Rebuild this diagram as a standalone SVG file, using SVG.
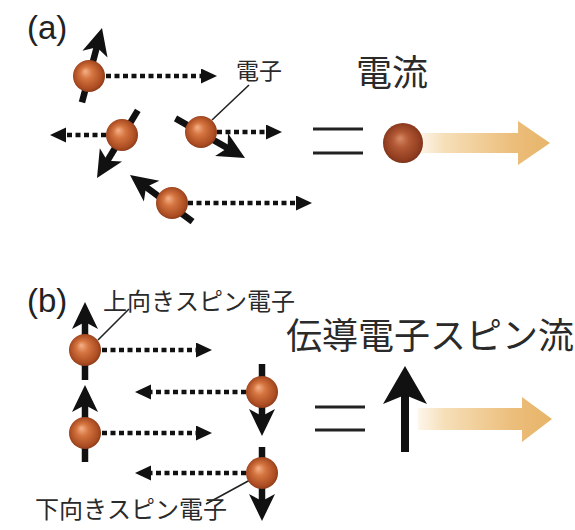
<svg xmlns="http://www.w3.org/2000/svg" width="575" height="530" viewBox="0 0 575 530">
  <style>
    .lbl { font-family: "Liberation Sans", Arial, sans-serif; fill: #222; }
    .jp { font-family: "Noto Sans CJK JP", "Noto Sans CJK SC", sans-serif; fill: #2a2a2a; }
    .dot { stroke: #111; stroke-width: 4.5; stroke-dasharray: 5 3.5; fill: none; marker-end: url(#tri); }
    .lead { stroke: #222; stroke-width: 1.6; fill: none; }
    .shaft { stroke: #111; stroke-width: 6.5; fill: none; }
    .head { fill: #111; }
    .eq { stroke: #222; stroke-width: 3; }
    .e { fill: url(#ball); }
  </style>
  <defs>
    <radialGradient id="ball" cx="0.5" cy="0.5" r="0.55" fx="0.38" fy="0.35">
      <stop offset="0" stop-color="#f6b189"/>
      <stop offset="0.35" stop-color="#d47440"/>
      <stop offset="0.8" stop-color="#ab4c22"/>
      <stop offset="1" stop-color="#7d3416"/>
    </radialGradient>
    <radialGradient id="ballBig" cx="0.5" cy="0.5" r="0.55" fx="0.42" fy="0.38">
      <stop offset="0" stop-color="#d88a68"/>
      <stop offset="0.35" stop-color="#b45a36"/>
      <stop offset="0.85" stop-color="#8c3a1e"/>
      <stop offset="1" stop-color="#6a2812"/>
    </radialGradient>
    <linearGradient id="flowA" gradientUnits="userSpaceOnUse" x1="418" y1="0" x2="552" y2="0">
      <stop offset="0" stop-color="#fdf6ec"/>
      <stop offset="0.2" stop-color="#f6dfb8"/>
      <stop offset="0.7" stop-color="#ecbe7c"/>
      <stop offset="1" stop-color="#e7b468"/>
    </linearGradient>
    <marker id="tri" markerUnits="userSpaceOnUse" markerWidth="17" markerHeight="16" refX="0" refY="7.5" orient="auto">
      <path d="M0,0 L16,7.5 L0,15 z" fill="#111"/>
    </marker>
  </defs>

  <rect width="575" height="530" fill="#ffffff"/>

  <!-- panel labels -->
  <text class="lbl" x="27" y="39" font-size="33">(a)</text>
  <text class="lbl" x="27" y="312" font-size="33">(b)</text>

  <!-- connectors: travel paths and leader lines -->
  <g id="connectors">
    <line class="dot" x1="106" y1="76" x2="201" y2="76"/>
    <line class="dot" x1="106" y1="135" x2="66" y2="135"/>
    <line class="dot" x1="217" y1="132" x2="266" y2="132"/>
    <line class="dot" x1="188" y1="203" x2="296" y2="203"/>
    <line class="dot" x1="102" y1="350" x2="196" y2="350"/>
    <line class="dot" x1="102" y1="433" x2="196" y2="433"/>
    <line class="dot" x1="246" y1="392" x2="151" y2="392"/>
    <line class="dot" x1="246" y1="473" x2="151" y2="473"/>
    <line class="lead" x1="212" y1="120" x2="249" y2="85"/>
    <line class="lead" x1="98" y1="340" x2="129" y2="309"/>
    <line class="lead" x1="250" y1="480" x2="206" y2="504"/>
  </g>

  <!-- (a) electrons moving in random directions -->
  <g id="e1">
    <g transform="translate(102,28) rotate(15.1)">
      <line class="shaft" x1="0" y1="16" x2="0" y2="77"/>
      <polygon class="head" points="0,0 -13,27 0,20 13,27"/>
    </g>
    <circle class="e" cx="89" cy="76" r="16"/>
  </g>
  <g id="e2">
    <g transform="translate(97,178) rotate(-148.9)">
      <line class="shaft" x1="0" y1="16" x2="0" y2="79"/>
      <polygon class="head" points="0,0 -13,27 0,20 13,27"/>
    </g>
    <circle class="e" cx="122" cy="135" r="16"/>
  </g>
  <g id="e3">
    <g transform="translate(245,158) rotate(119.7)">
      <line class="shaft" x1="0" y1="16" x2="0" y2="80"/>
      <polygon class="head" points="0,0 -13,27 0,20 13,27"/>
    </g>
    <circle class="e" cx="201" cy="132" r="16"/>
  </g>
  <g id="e4">
    <g transform="translate(130,175) rotate(-53.3)">
      <line class="shaft" x1="0" y1="16" x2="0" y2="78"/>
      <polygon class="head" points="0,0 -13,27 0,20 13,27"/>
    </g>
    <circle class="e" cx="172" cy="203" r="16"/>
  </g>

  <g id="label-electron">
    <text class="jp" x="236" y="79" font-size="23">電子</text>
  </g>
  <g id="label-current">
    <text class="jp" x="356" y="86" font-size="36">電流</text>
  </g>

  <g id="equals-a">
    <line class="eq" x1="313" y1="129" x2="363" y2="129"/>
    <line class="eq" x1="313" y1="153" x2="363" y2="153"/>
  </g>

  <g id="current">
    <polygon fill="url(#flowA)" points="418,133 518,133 518,121 550,143 518,165 518,153 418,153"/>
    <circle cx="403" cy="143" r="20" fill="url(#ballBig)"/>
  </g>

  <!-- (b) up- and down-spin electrons moving in opposite directions -->
  <g id="u1">
    <g transform="translate(85,302)">
      <line class="shaft" x1="0" y1="16" x2="0" y2="78"/>
      <polygon class="head" points="0,0 -13,27 0,20 13,27"/>
    </g>
    <circle class="e" cx="85" cy="350" r="16"/>
  </g>
  <g id="u2">
    <g transform="translate(85,385)">
      <line class="shaft" x1="0" y1="16" x2="0" y2="77"/>
      <polygon class="head" points="0,0 -13,27 0,20 13,27"/>
    </g>
    <circle class="e" cx="85" cy="433" r="16"/>
  </g>
  <g id="d1">
    <g transform="translate(262,436) rotate(180)">
      <line class="shaft" x1="0" y1="16" x2="0" y2="72"/>
      <polygon class="head" points="0,0 -13,27 0,20 13,27"/>
    </g>
    <circle class="e" cx="262" cy="392" r="16"/>
  </g>
  <g id="d2">
    <g transform="translate(262,521) rotate(180)">
      <line class="shaft" x1="0" y1="16" x2="0" y2="74"/>
      <polygon class="head" points="0,0 -13,27 0,20 13,27"/>
    </g>
    <circle class="e" cx="262" cy="473" r="16"/>
  </g>

  <g id="label-up">
    <text class="jp" x="103" y="310" font-size="24">上向きスピン電子</text>
  </g>
  <g id="label-down">
    <text class="jp" x="35" y="518" font-size="24">下向きスピン電子</text>
  </g>
  <g id="label-spin-current">
    <text class="jp" x="286" y="349" font-size="36">伝導電子スピン流</text>
  </g>

  <g id="equals-b">
    <line class="eq" x1="315" y1="407" x2="365" y2="407"/>
    <line class="eq" x1="315" y1="430" x2="365" y2="430"/>
  </g>

  <g id="spin-current">
    <line stroke="#111" stroke-width="8" x1="405" y1="392" x2="405" y2="452"/>
    <polygon fill="#111" points="405,366 427,404 405,395 383,404"/>
    <polygon fill="url(#flowA)" points="418,408 522,408 522,397 552,419 522,442 522,430 418,430"/>
  </g>
</svg>
